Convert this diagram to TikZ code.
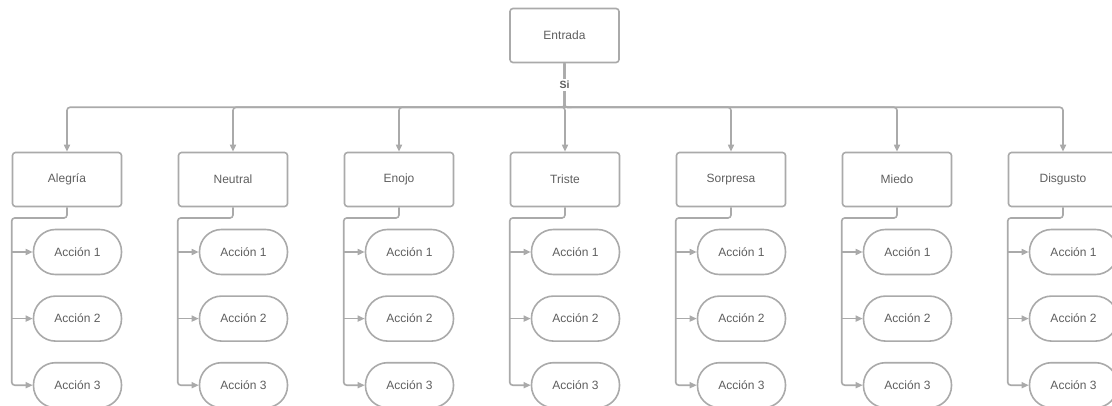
\documentclass[tikz,border=0pt]{standalone}
\usepackage{fontspec}
\setmainfont{Liberation Sans}
\usepackage{tikz}
\usetikzlibrary{arrows.meta, positioning}
\definecolor{linegray}{RGB}{170,170,170}
\definecolor{textgray}{RGB}{95,95,95}

\begin{document}
\begin{tikzpicture}[
    x=1pt, y=-1pt,
    every node/.style={font=\fontsize{12}{14}\selectfont, text=textgray},
    entry/.style={draw=linegray, line width=1.6pt, fill=white, rounded corners=3pt,
                minimum width=109pt, minimum height=54pt, align=center},
    pill/.style={draw=linegray, line width=1.6pt, fill=white, rounded corners=22pt,
                minimum width=88pt, minimum height=45pt},
    link/.style={draw=linegray, line width=1.6pt, rounded corners=3pt},
    arrow/.style={link, -{Triangle[length=7pt, width=6pt]}}
]
\useasboundingbox (0,0) rectangle (1112,406);
\node[entry] (entrada) at (564.5,35.5) {Entrada};
% categories and their actions
\foreach \name [count=\i] in {Alegría, Neutral, Enojo, Triste, Sorpresa, Miedo, Disgusto} {
  \node[entry] (c\i) at (67+166*\i-166,179.5) {\name};
  \node[pill] (a\i-1) at (77.5+166*\i-166,252) {Acción 1};
  \node[pill, below=20pt of a\i-1] (a\i-2) {Acción 2};
  \node[pill, below=20pt of a\i-2] (a\i-3) {Acción 3};
  \coordinate (t\i) at (c\i.west |- 0,218);
  \draw[arrow] (entrada.south) -- ++(0,44) -| (c\i.north);
  \draw[arrow] (c\i.south) |- (t\i) |- (a\i-3.west);
  \draw[arrow] (t\i |- a\i-1.west) -- (a\i-1.west);
  \draw[arrow] (t\i |- a\i-2.west) -- (a\i-2.west);
}
\node[fill=white, inner sep=2pt, font=\bfseries\fontsize{10.5}{12}\selectfont] (si) at (564.5,85) {Si};
\end{tikzpicture}
\end{document}
